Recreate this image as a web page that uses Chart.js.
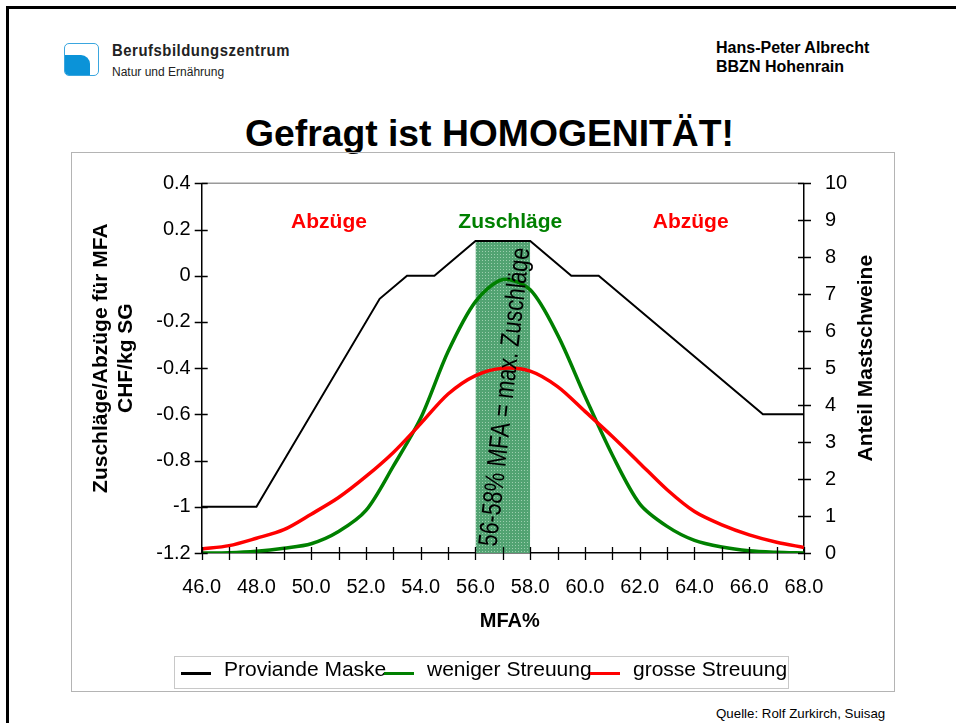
<!DOCTYPE html>
<html lang="de">
<head>
<meta charset="utf-8">
<title>Gefragt ist HOMOGENITÄT!</title>
<script src="https://cdn.jsdelivr.net/npm/chart.js@4.4.1/dist/chart.umd.min.js"></script>
<style>
  html, body { margin:0; padding:0; background:#fff; }
  body { width:956px; height:723px; position:relative; overflow:hidden; font-family:'Liberation Sans', Arial, sans-serif; color:#000; }
  .abs { position:absolute; white-space:nowrap; }
  #outer { position:absolute; left:6px; top:6px; width:980px; height:740px; border-top:3px solid #000; border-left:3px solid #000; }
  #logo { position:absolute; left:64px; top:43px; width:33px; height:31px; border:1.5px solid #3aa6df; border-radius:5px; overflow:hidden; background:#fff; }
  #logo .fill { position:absolute; left:0; top:11px; width:25px; height:20px; background:#0b93d8; border-top-right-radius:9px; }
  #brand { left:112px; top:41px; font:bold 17px 'Liberation Sans',sans-serif; letter-spacing:0.6px; line-height:20px; color:#222; transform:scaleX(0.875); transform-origin:0 0; }
  #brandsub { left:112px; top:65px; font:12px 'Liberation Sans',sans-serif; line-height:14px; color:#222; }
  #author { left:716px; top:39px; font:bold 16px 'Liberation Sans',sans-serif; line-height:18.5px; }
  #title { left:489.5px; top:113px; transform:translateX(-50%); font:bold 37.3px 'Liberation Sans',sans-serif; line-height:40px; }
  #frame { position:absolute; left:71px; top:152px; width:824px; height:540px; border:1px solid #b4b4b4; box-sizing:border-box; }
  #chart { position:absolute; left:73px; top:154px; }
  #legend { position:absolute; left:174px; top:656px; width:615px; height:33px; border:1px solid #c8c8c8; box-sizing:border-box; }
  .li { position:absolute; top:0; height:30px; line-height:30px; font:21px 'Liberation Sans',sans-serif; white-space:nowrap; }
  .sw { position:absolute; height:3px; width:30px; top:15px; }
  #source { left:716px; top:706px; font:13.3px 'Liberation Sans',sans-serif; line-height:16px; }
</style>
</head>
<body>
<div id="outer"></div>
<div id="logo"><div class="fill"></div></div>
<div id="brand" class="abs">Berufsbildungszentrum</div>
<div id="brandsub" class="abs">Natur und Ernährung</div>
<div id="author" class="abs">Hans-Peter Albrecht<br>BBZN Hohenrain</div>
<div id="title" class="abs">Gefragt ist HOMOGENITÄT!</div>
<div id="frame"></div>
<canvas id="chart" width="820" height="536"></canvas>
<div id="legend"></div>
<div id="source" class="abs">Quelle: Rolf Zurkirch, Suisag</div>

<script>
// ---------- DATA ----------
const mfa = [46,47,48,49,50,51,52,53,54,55,56,57,58,59,60,61,62,63,64,65,66,67,68];
const wenigerStreuung = [0.0,0.01,0.05,0.13,0.25,0.58,1.15,2.35,3.65,5.45,6.8,7.4,7.12,5.9,4.24,2.65,1.33,0.72,0.34,0.16,0.06,0.02,0.0];
const grosseStreuung  = [0.11,0.2,0.4,0.63,1.05,1.5,2.07,2.72,3.5,4.3,4.8,5.0,4.92,4.5,3.83,3.15,2.43,1.71,1.12,0.76,0.49,0.29,0.15];
const maskeMFA      = [46,48,52.5,53.5,54.5,56,58,59.5,60.5,66.5,68];
const maskeZuschlag = [-1.0,-1.0,-0.1,0.0,0.0,0.15,0.15,0.0,0.0,-0.6,-0.6];
const bandMFA      = [56,58];
const bandZuschlag = [0.15,0.15];
const xTickValues = [46,48,50,52,54,56,58,60,62,64,66,68];
const xTickLabels = ['46.0','48.0','50.0','52.0','54.0','56.0','58.0','60.0','62.0','64.0','66.0','68.0'];
const seriesNames  = ['Proviande Maske','weniger Streuung','grosse Streuung'];
const seriesColors = ['#000000','#008000','#ff0000'];
const regionTexts  = ['Abzüge','Zuschläge','Abzüge'];
const regionColors = ['#ff0000','#008000','#ff0000'];
const bandLabel = '56-58% MFA = max. Zuschläge';
const axisTitleLeft = ['Zuschläge/Abzüge für MFA','CHF/kg SG'];
const axisTitleRight = 'Anteil Mastschweine';
const axisTitleX = 'MFA%';

// ---------- CHART ----------
const FONT = "'Liberation Sans', Arial, sans-serif";
const canvas = document.getElementById('chart');
const ctx0 = canvas.getContext('2d');

// dotted green band texture
const pc = document.createElement('canvas'); pc.width = 3; pc.height = 3;
const pctx = pc.getContext('2d');
pctx.fillStyle = '#52a372'; pctx.fillRect(0,0,3,3);
pctx.fillStyle = '#9ccfae'; pctx.fillRect(1,1,1,1);
const bandPattern = ctx0.createPattern(pc, 'repeat');

// placement of text labels (in data units)
const regionPos = [{x:50.65,y:0.232},{x:57.27,y:0.232},{x:63.86,y:0.232}];

const decor = {
  id: 'decor',
  afterDatasetsDraw(chart) {
    const {ctx, scales:{x, y}} = chart;
    ctx.save();
    ctx.translate(x.getPixelForValue(57.1), y.getPixelForValue(-0.525));
    ctx.rotate(-83.7 * Math.PI / 180);
    ctx.font = "27px 'Liberation Sans', Arial, sans-serif";
    const w = ctx.measureText(bandLabel).width;
    ctx.scale(300 / w, 1);
    ctx.fillStyle = '#000';
    ctx.textAlign = 'center';
    ctx.textBaseline = 'middle';
    ctx.fillText(bandLabel, 0, 0);
    ctx.restore();
  },
  afterDraw(chart) {
    const {ctx, chartArea:a, scales:{x, y, y2}} = chart;
    ctx.save();
    // top frame of plot
    ctx.strokeStyle = '#9a9a9a'; ctx.lineWidth = 1.5;
    ctx.beginPath(); ctx.moveTo(a.left, a.top); ctx.lineTo(a.right, a.top); ctx.stroke();
    // crossing tick marks
    ctx.strokeStyle = '#000'; ctx.lineWidth = 1.3;
    ctx.beginPath();
    x.ticks.forEach(t => { const p = Math.round(x.getPixelForValue(t.value)) + 0.5; ctx.moveTo(p, a.bottom - 6); ctx.lineTo(p, a.bottom + 7); });
    y.ticks.forEach(t => { const p = Math.round(y.getPixelForValue(t.value)) + 0.5; ctx.moveTo(a.left - 7, p); ctx.lineTo(a.left + 6, p); });
    y2.ticks.forEach(t => { const p = Math.round(y2.getPixelForValue(t.value)) + 0.5; ctx.moveTo(a.right - 6, p); ctx.lineTo(a.right + 7, p); });
    ctx.stroke();
    // region labels
    ctx.font = 'bold 21px ' + FONT;
    ctx.textAlign = 'center'; ctx.textBaseline = 'middle';
    regionTexts.forEach((t, i) => {
      ctx.fillStyle = regionColors[i];
      ctx.fillText(t, x.getPixelForValue(regionPos[i].x), y.getPixelForValue(regionPos[i].y));
    });
    // axis titles
    ctx.fillStyle = '#000';
    const cy = (a.top + a.bottom) / 2 - 10;
    axisTitleLeft.forEach((t, i) => {
      ctx.save();
      ctx.translate(y.left + 28.5 + i * 25.2, cy);
      ctx.rotate(-Math.PI / 2);
      ctx.fillText(t, 0, 0);
      ctx.restore();
    });
    ctx.save();
    ctx.translate(y2.left + 62.7, cy);
    ctx.rotate(-Math.PI / 2);
    ctx.fillText(axisTitleRight, 0, 0);
    ctx.restore();
    ctx.font = 'bold 20px ' + FONT;
    ctx.fillText(axisTitleX, (a.left + a.right) / 2 + 7, a.bottom + 68);
    ctx.restore();
  }
};

const chart = new Chart(canvas, {
  type: 'line',
  data: {
    datasets: [
      { label: seriesNames[2], data: mfa.map((m,i)=>({x:m, y:grosseStreuung[i]})), yAxisID:'y2',
        borderColor: seriesColors[2], borderWidth: 3.5, pointRadius: 0, tension: 0.3, fill:false, order: 1 },
      { label: seriesNames[1], data: mfa.map((m,i)=>({x:m, y:wenigerStreuung[i]})), yAxisID:'y2',
        borderColor: seriesColors[1], borderWidth: 3.5, pointRadius: 0, tension: 0.3, fill:false, order: 2 },
      { label: seriesNames[0], data: maskeMFA.map((m,i)=>({x:m, y:maskeZuschlag[i]})), yAxisID:'y',
        borderColor: seriesColors[0], borderWidth: 2, pointRadius: 0, tension: 0, fill:false, order: 3 },
      { label: 'band', isBand: true, data: bandMFA.map((m,i)=>({x:m, y:bandZuschlag[i]})), yAxisID:'y',
        borderWidth: 0, borderColor:'rgba(0,0,0,0)', backgroundColor: bandPattern, pointRadius: 0, fill: 'start', order: 10 }
    ]
  },
  options: {
    responsive: false,
    animation: false,
    layout: { padding: { top: 29.3, left: 0, right: 0, bottom: 0 } },
    plugins: { legend: { display: false }, tooltip: { enabled: false } },
    scales: {
      x: {
        type: 'linear', position: 'bottom', min: 46, max: 68,
        afterFit(s) { s.height = 137; },
        grid: { display: true, drawOnChartArea: false, drawTicks: false },
        border: { display: true, color: '#000', width: 1.5 },
        ticks: {
          stepSize: 1, autoSkip: false, maxRotation: 0, minRotation: 0, padding: 22,
          color: '#000', font: { family: FONT, size: 20 },
          callback: (v) => { const i = xTickValues.indexOf(Math.round(v*10)/10); return i >= 0 ? xTickLabels[i] : ''; }
        }
      },
      y: {
        type: 'linear', position: 'left', min: -1.2, max: 0.4,
        afterFit(s) { s.width = 128.7; },
        grid: { display: true, drawOnChartArea: false, drawTicks: false },
        border: { display: true, color: '#000', width: 1.5 },
        ticks: { stepSize: 0.2, padding: 11, color: '#000', font: { family: FONT, size: 20, lineHeight: 0.8 },
          callback: (v) => String(parseFloat(Number(v).toFixed(1))) }
      },
      y2: {
        type: 'linear', position: 'right', min: 0, max: 10,
        afterFit(s) { s.width = 89; },
        grid: { display: true, drawOnChartArea: false, drawTicks: false },
        border: { display: true, color: '#000', width: 1.5 },
        ticks: { stepSize: 1, padding: 21, color: '#000', font: { family: FONT, size: 20, lineHeight: 0.8 } }
      }
    }
  },
  plugins: [decor]
});

// legend built from the chart's own datasets
const legendEl = document.getElementById('legend');
let lx = 6;
seriesNames.forEach(name => {
  const ds = chart.data.datasets.find(d => d.label === name);
  const sw = document.createElement('span');
  sw.className = 'sw'; sw.style.left = lx + 'px'; sw.style.background = ds.borderColor;
  legendEl.appendChild(sw);
  const t = document.createElement('span');
  t.className = 'li'; t.textContent = ds.label; t.style.left = (lx + 43) + 'px';
  legendEl.appendChild(t);
  lx = lx + 43 + t.offsetWidth - 2;
});
</script>
</body>
</html>
